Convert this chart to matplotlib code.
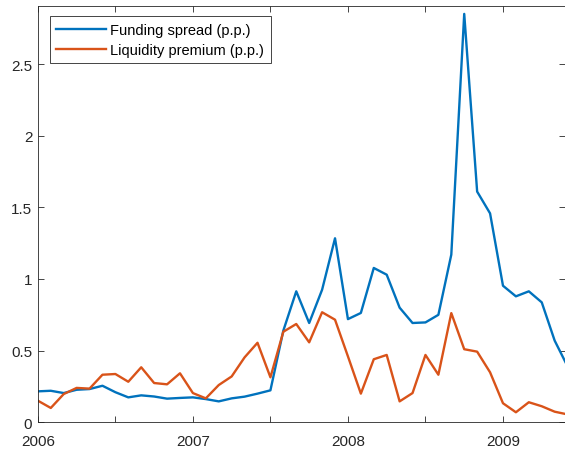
import numpy as np
import matplotlib
matplotlib.use('Agg')
import matplotlib.pyplot as plt

plt.rcParams['font.family'] = ['Liberation Sans', 'DejaVu Sans']

# monthly observations, Jan 2006 onwards
start_year = 2006
funding_spread = [0.216, 0.22, 0.204, 0.227, 0.232, 0.255, 0.21, 0.174, 0.188, 0.18,
                  0.165, 0.17, 0.174, 0.162, 0.146, 0.167, 0.179, 0.2, 0.223, 0.64,
                  0.914, 0.693, 0.925, 1.284, 0.72, 0.763, 1.077, 1.03, 0.80, 0.693,
                  0.697, 0.75, 1.17, 2.85, 1.61, 1.458, 0.953, 0.879, 0.914, 0.837,
                  0.57, 0.39]
liquidity_premium = [0.151, 0.10, 0.197, 0.24, 0.235, 0.332, 0.337, 0.283, 0.384, 0.274,
                     0.265, 0.342, 0.204, 0.167, 0.26, 0.32, 0.453, 0.555, 0.314, 0.632,
                     0.686, 0.558, 0.768, 0.716, 0.46, 0.2, 0.44, 0.47, 0.146, 0.204,
                     0.47, 0.332, 0.762, 0.51, 0.493, 0.349, 0.133, 0.07, 0.14, 0.112,
                     0.074, 0.055]
labels = ['Funding spread (p.p.)', 'Liquidity premium (p.p.)']

x = start_year + np.arange(len(funding_spread)) / 12.0

fig = plt.figure(figsize=(5.65, 4.52), dpi=100)
ax = fig.add_axes([0.067, 0.0635, 0.933, 0.921])

ax.plot(x, funding_spread, color='#0072BD', lw=1.7, label=labels[0])
ax.plot(x, liquidity_premium, color='#D95319', lw=1.7, label=labels[1])

ax.set_xlim(2006, 2009.40)
ax.set_ylim(0, 2.905)

ax.set_xticks(np.arange(2006, 2009.5, 0.5))
ax.set_xticklabels(['2006', '', '2007', '', '2008', '', '2009'])
ax.set_yticks([0, 0.5, 1, 1.5, 2, 2.5])
ax.set_yticklabels(['0', '0.5', '1', '1.5', '2', '2.5'])

ax.tick_params(direction='in', length=4, width=0.6, colors='0.15',
               top=True, right=True, labelsize=11, pad=4)
ax.tick_params(axis='x', pad=8.5)
for s in ax.spines.values():
    s.set_color('0.15')
    s.set_linewidth(0.6)

leg = ax.legend(loc='upper left', bbox_to_anchor=(0.0225, 0.975), fontsize=10.5,
                fancybox=False, edgecolor='0.15', framealpha=1,
                handlelength=3.4, handletextpad=0.3, borderpad=0.45,
                labelspacing=0.4, borderaxespad=0)
leg.get_frame().set_linewidth(0.6)

fig.savefig('out.png', dpi=100)
